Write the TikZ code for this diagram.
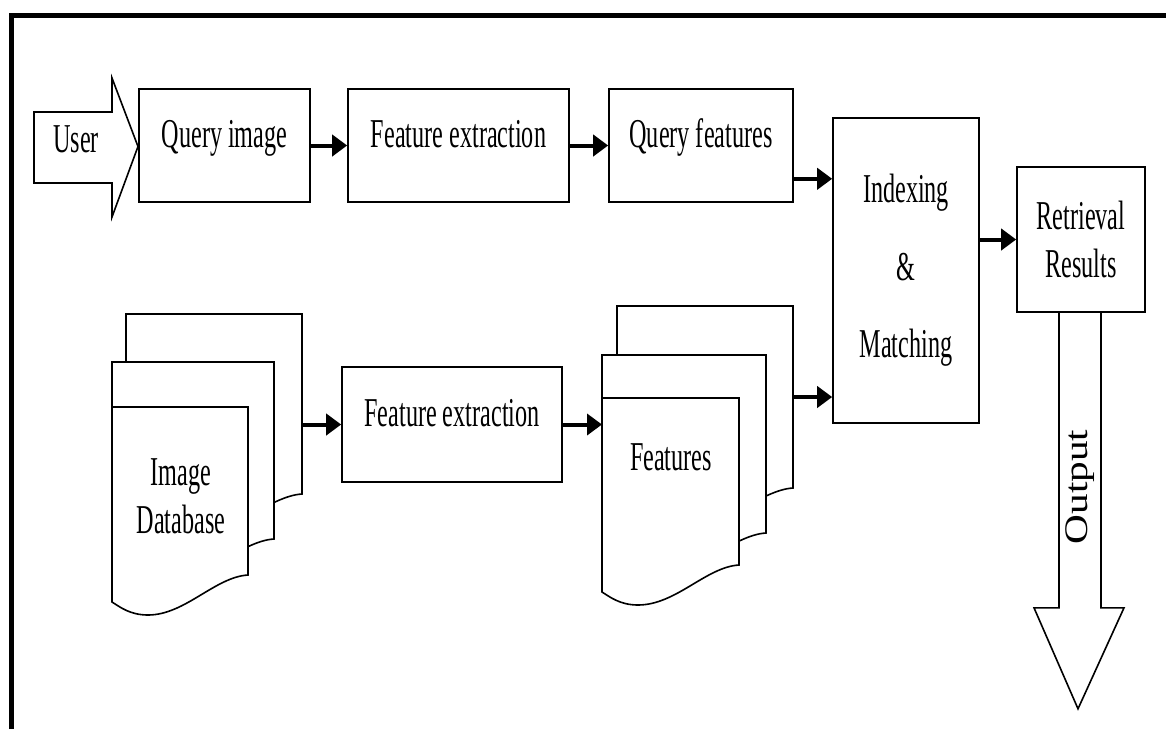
\documentclass[tikz,border=0pt]{standalone}
\usepackage{fontspec}
\setmainfont{Liberation Serif}[FakeStretch=0.59]
\newfontfamily\outfont{Liberation Serif}[FakeStretch=1.25]
\usetikzlibrary{arrows.meta,calc}

\tikzset{
	box/.style={draw,line width=1.6pt,inner sep=0pt,align=center},
	oneline/.style={text height=0.7em,text depth=0.23em},
	pagenode/.style={inner sep=0pt,outer sep=0pt},
	arr/.style={line width=4pt,-{Triangle[length=15pt,width=21pt]}},
}
\newcommand{\drawpage}[1]{%
	\draw[line width=1.6pt,fill=white] (#1.north west) -- (#1.north east) -- (#1.south east)
		.. controls ($(#1.south east)+(-33,2)$) and ($(#1.south east)+(-63,40)$) .. ($(#1.south west)+(36,40)$)
		.. controls ($(#1.south west)+(18,40)$) and ($(#1.south west)+(8,32)$) .. ($(#1.south west)+(0,27)$) -- cycle;}

\begin{document}
\begin{tikzpicture}[x=1pt,y=-1pt,font=\fontsize{41}{48}\selectfont]
		\useasboundingbox (0,0) rectangle (1166,729);
		\draw[line width=5pt] (11,729) -- (11,15.5) -- (1166,15.5);

		\draw[line width=1.6pt] (34,112) -- (112,112) -- (112,78) -- (138,146.5) -- (112,217) -- (112,183) -- (34,183) -- cycle;
		\node[oneline,inner sep=0pt] (usr) at (76,150) {User};

		\node[box,oneline,minimum width=171pt,minimum height=113pt] (qimg) at (224.5,145.5) {Query image};
		\node[box,oneline,minimum width=221pt,minimum height=113pt] (fext1) at (458.5,145.5) {Feature extraction};
		\node[box,oneline,minimum width=184pt,minimum height=113pt] (qfeat) at (701,145.5) {Query features};
		\node[box,minimum width=146pt,minimum height=305pt,font=\fontsize{41}{77.5}\selectfont] (idx) at (906,270.5) {Indexing\\\&\\Matching};
		\node[box,minimum width=128pt,minimum height=145pt] (ret) at (1081,239.5) {Retrieval\\Results};
		\node[box,oneline,minimum width=220pt,minimum height=115pt] (fext2) at (452,424.5) {Feature extraction};

		\node[pagenode,minimum width=176pt,minimum height=180pt] (dbA) at (214,404) {};
		\node[pagenode,minimum width=162pt,minimum height=177pt] (dbB) at (193,450.5) {};
		\node[pagenode,minimum width=136pt,minimum height=168pt] (dbC) at (180,491) {};
		\drawpage{dbA}
		\drawpage{dbB}
		\drawpage{dbC}
		\node[inner sep=0pt,align=center] (dbl) at (181,496) {Image\\Database};

		\node[pagenode,minimum width=176pt,minimum height=182pt] (ftA) at (705,397) {};
		\node[pagenode,minimum width=164pt,minimum height=178pt] (ftB) at (684,444) {};
		\node[pagenode,minimum width=137pt,minimum height=167pt] (ftC) at (670.5,481.5) {};
		\drawpage{ftA}
		\drawpage{ftB}
		\drawpage{ftC}
		\node[oneline,inner sep=0pt] (ftl) at (671,468.5) {Features};

		\draw[line width=1.6pt] ($(ret.south)+(-22,0)$) -- ($(ret.south)+(-22,295)$) -- ($(ret.south)+(-47,295)$)
			-- ($(ret.south)+(-3,396)$) -- ($(ret.south)+(43,295)$) -- ($(ret.south)+(20,295)$) -- ($(ret.south)+(20,0)$);
		\node[rotate=90,inner sep=0pt,font=\outfont\fontsize{33}{40}\selectfont] (outl) at (1080,487) {Output};

		\coordinate (qout) at ($(qfeat.south east)+(0,-24)$);
		\draw[arr] (qimg) -- (fext1);
		\draw[arr] (fext1) -- (qfeat);
		\draw[arr] (qout) -- (qout -| idx.west);
		\draw[arr] (ftA.east) -- (ftA.east -| idx.west);
		\draw[arr] (idx.east |- ret.west) -- (ret.west);
		\draw[arr] (dbA.east |- fext2.west) -- (fext2.west);
		\draw[arr] (fext2.east) -- (fext2.east -| ftC.west);
	\end{tikzpicture}
\end{document}
